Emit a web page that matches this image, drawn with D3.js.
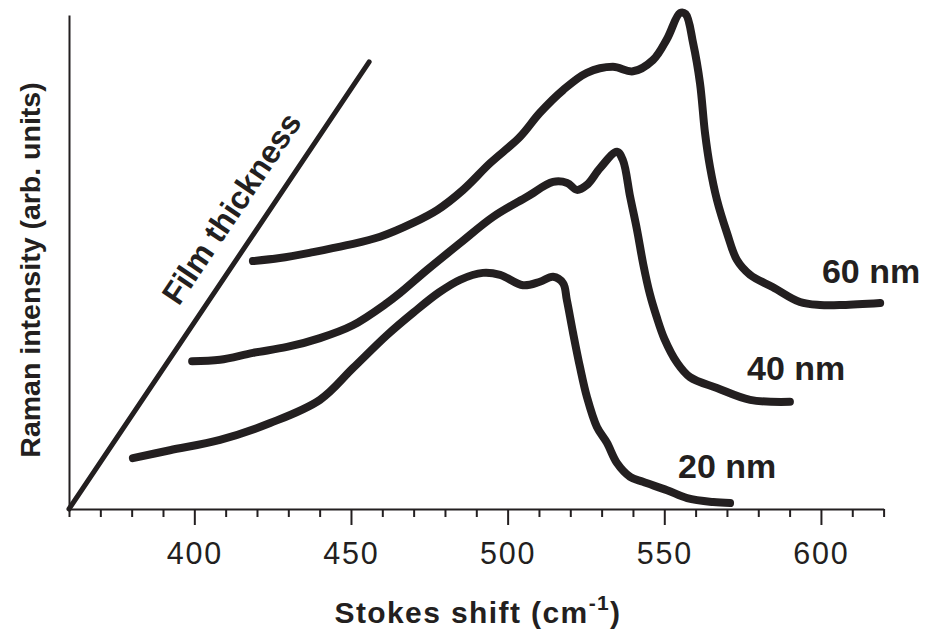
<!DOCTYPE html>
<html>
<head>
<meta charset="utf-8">
<script src="https://cdn.jsdelivr.net/npm/d3@7"></script>
<style>
  body { margin: 0; background: #fff; }
  text { font-family: "Liberation Sans", Arial, Helvetica, sans-serif; fill: #231f20; }
</style>
</head>
<body>
<svg id="chart" width="928" height="636"></svg>
<script>
// Raman spectra (Stokes shift in cm-1, intensity in arbitrary units, offset per film)
const spectrum20 = [
  [380.4,10.3],[392.2,11.9],[408.2,14.0],[424.2,17.4],[440.1,22.1],[450.6,28.5],
  [461.5,35.2],[470.0,39.8],[478.0,43.8],[484.8,46.4],[492.1,47.8],[497.6,47.4],
  [504.9,45.3],[510.3,46.0],[514.5,47.0],[517.7,45.7],[518.9,42.3],[520.9,35.6],
  [523.1,28.7],[525.3,22.7],[528.5,16.6],[531.7,13.4],[534.9,9.3],[539.1,6.5],
  [543.2,5.5],[550.9,3.8],[557.3,2.2],[565.6,1.4],[571.0,1.2]
];
const spectrum40 = [
  [399.3,29.9],[408.2,30.2],[418.7,31.6],[429.6,32.8],[440.1,34.6],[450.6,37.2],
  [461.5,41.7],[465.6,43.7],[474.3,48.4],[484.8,53.8],[495.3,59.1],[506.2,63.2],
  [514.5,66.2],[519.0,66.0],[522.1,64.6],[525.3,65.6],[529.5,69.0],[534.9,72.3],
  [536.8,70.6],[539.1,63.2],[541.3,56.5],[543.3,49.5],[545.4,43.5],[547.5,39.0],
  [550.0,34.5],[554.1,29.6],[558.2,26.7],[566.8,24.5],[577.4,22.1],[590.1,21.7]
];
const spectrum60 = [
  [418.7,50.2],[427.3,50.8],[437.9,52.0],[448.7,53.4],[459.3,55.1],[469.8,57.9],
  [477.5,60.5],[485.8,64.6],[494.4,70.0],[503.9,75.3],[510.3,80.2],[517.7,84.8],
  [525.3,88.3],[533.6,89.5],[540.0,88.6],[546.4,90.9],[550.9,95.2],
  [555.0,100.4],[556.8,100.2],[559.2,94.3],[561.4,86.2],[563.0,76.1],[564.6,69.2],
  [566.8,62.6],[570.0,55.9],[573.2,50.4],[577.4,47.4],[584.7,44.9],[593.3,41.9],
  [599.7,41.3],[607.0,41.3],[618.9,41.7]
];

const seriesNames = ["20 nm", "40 nm", "60 nm"];
// label anchor (left edge, baseline) for each film
const labelAnchors = [[554.4, 6.3], [576.4, 26.1], [600.3, 45.7]];

const majorTicks = [400, 450, 500, 550, 600];
const minorTicks = [360, 370, 380, 390, 410, 420, 430, 440, 460, 470, 480, 490,
                    510, 520, 530, 540, 560, 570, 580, 590, 610, 620];

// thickness guide line, in data units
const thicknessGuide = [[360, 0], [455.8, 90.5]];

const xDomain = [360, 620];
const yDomain = [0, 100];

const svg = d3.select("#chart");
const ink = "#231f20";

const x = d3.scaleLinear().domain(xDomain).range([69, 883.6]);
const y = d3.scaleLinear().domain(yDomain).range([509, 15]);

// minor ticks
svg.append("g")
  .attr("transform", `translate(0,${y(0)})`)
  .call(d3.axisBottom(x).tickValues(minorTicks).tickSize(8).tickSizeOuter(0).tickFormat(""))
  .call(g => g.select(".domain").remove())
  .call(g => g.selectAll("line").attr("stroke", ink).attr("stroke-width", 2));

// major ticks, labels and baseline
svg.append("g")
  .attr("transform", `translate(0,${y(0)})`)
  .call(d3.axisBottom(x).tickValues(majorTicks).tickSize(16).tickSizeOuter(0).tickFormat(d3.format("d")))
  .call(g => g.select(".domain").attr("stroke", ink).attr("stroke-width", 2))
  .call(g => g.selectAll("line").attr("stroke", ink).attr("stroke-width", 2))
  .call(g => g.selectAll("text")
    .attr("y", 55).attr("dy", 0)
    .attr("font-size", 30.5)
    .attr("letter-spacing", 1.8)
    .attr("font-family", "Liberation Sans, Arial, sans-serif")
    .attr("fill", ink));

// vertical axis line, no ticks
svg.append("g")
  .attr("transform", `translate(${x(360)},0)`)
  .call(d3.axisLeft(y).tickValues([]).tickSizeOuter(0))
  .call(g => g.select(".domain").attr("stroke", ink).attr("stroke-width", 2));

// film thickness guide
svg.append("line")
  .attr("x1", x(thicknessGuide[0][0])).attr("y1", y(thicknessGuide[0][1]))
  .attr("x2", x(thicknessGuide[1][0])).attr("y2", y(thicknessGuide[1][1]))
  .attr("stroke", ink).attr("stroke-width", 5).attr("stroke-linecap", "round");

const gx0 = x(thicknessGuide[0][0]), gy0 = y(thicknessGuide[0][1]);
const gx1 = x(thicknessGuide[1][0]), gy1 = y(thicknessGuide[1][1]);
const guideAngle = Math.atan2(gy1 - gy0, gx1 - gx0) * 180 / Math.PI;
svg.append("text")
  .attr("transform", `translate(${x(414.8)},${y(59.6)}) rotate(${guideAngle})`)
  .attr("text-anchor", "middle")
  .attr("font-size", 32)
  .attr("font-weight", "bold")
  .text("Film thickness");

// spectra
const line = d3.line()
  .x(d => x(d[0])).y(d => y(d[1]))
  .curve(d3.curveCatmullRom.alpha(0.5));
const spectra = [spectrum20, spectrum40, spectrum60];
svg.append("g")
  .selectAll("path")
  .data(spectra)
  .join("path")
  .attr("d", line)
  .attr("fill", "none")
  .attr("stroke", ink)
  .attr("stroke-width", 8)
  .attr("stroke-linejoin", "round")
  .attr("stroke-linecap", "round");

// film labels
svg.append("g")
  .selectAll("text")
  .data(seriesNames)
  .join("text")
  .attr("x", (d, i) => x(labelAnchors[i][0]))
  .attr("y", (d, i) => y(labelAnchors[i][1]))
  .attr("font-size", 34)
  .attr("font-weight", "bold")
  .text(d => d);

// axis titles
const xt = svg.append("text")
  .attr("x", 478)
  .attr("y", 623)
  .attr("text-anchor", "middle")
  .attr("font-size", 30)
  .attr("letter-spacing", 1.4)
  .attr("font-weight", "bold");
xt.append("tspan").text("Stokes shift (cm");
xt.append("tspan").attr("dy", -13).attr("font-size", 21).text("-1");
xt.append("tspan").attr("dy", 13).text(")");

svg.append("text")
  .attr("transform", "translate(40,270) rotate(-90)")
  .attr("text-anchor", "middle")
  .attr("font-size", 28.5)
  .attr("font-weight", "bold")
  .text("Raman intensity (arb. units)");
</script>
</body>
</html>
